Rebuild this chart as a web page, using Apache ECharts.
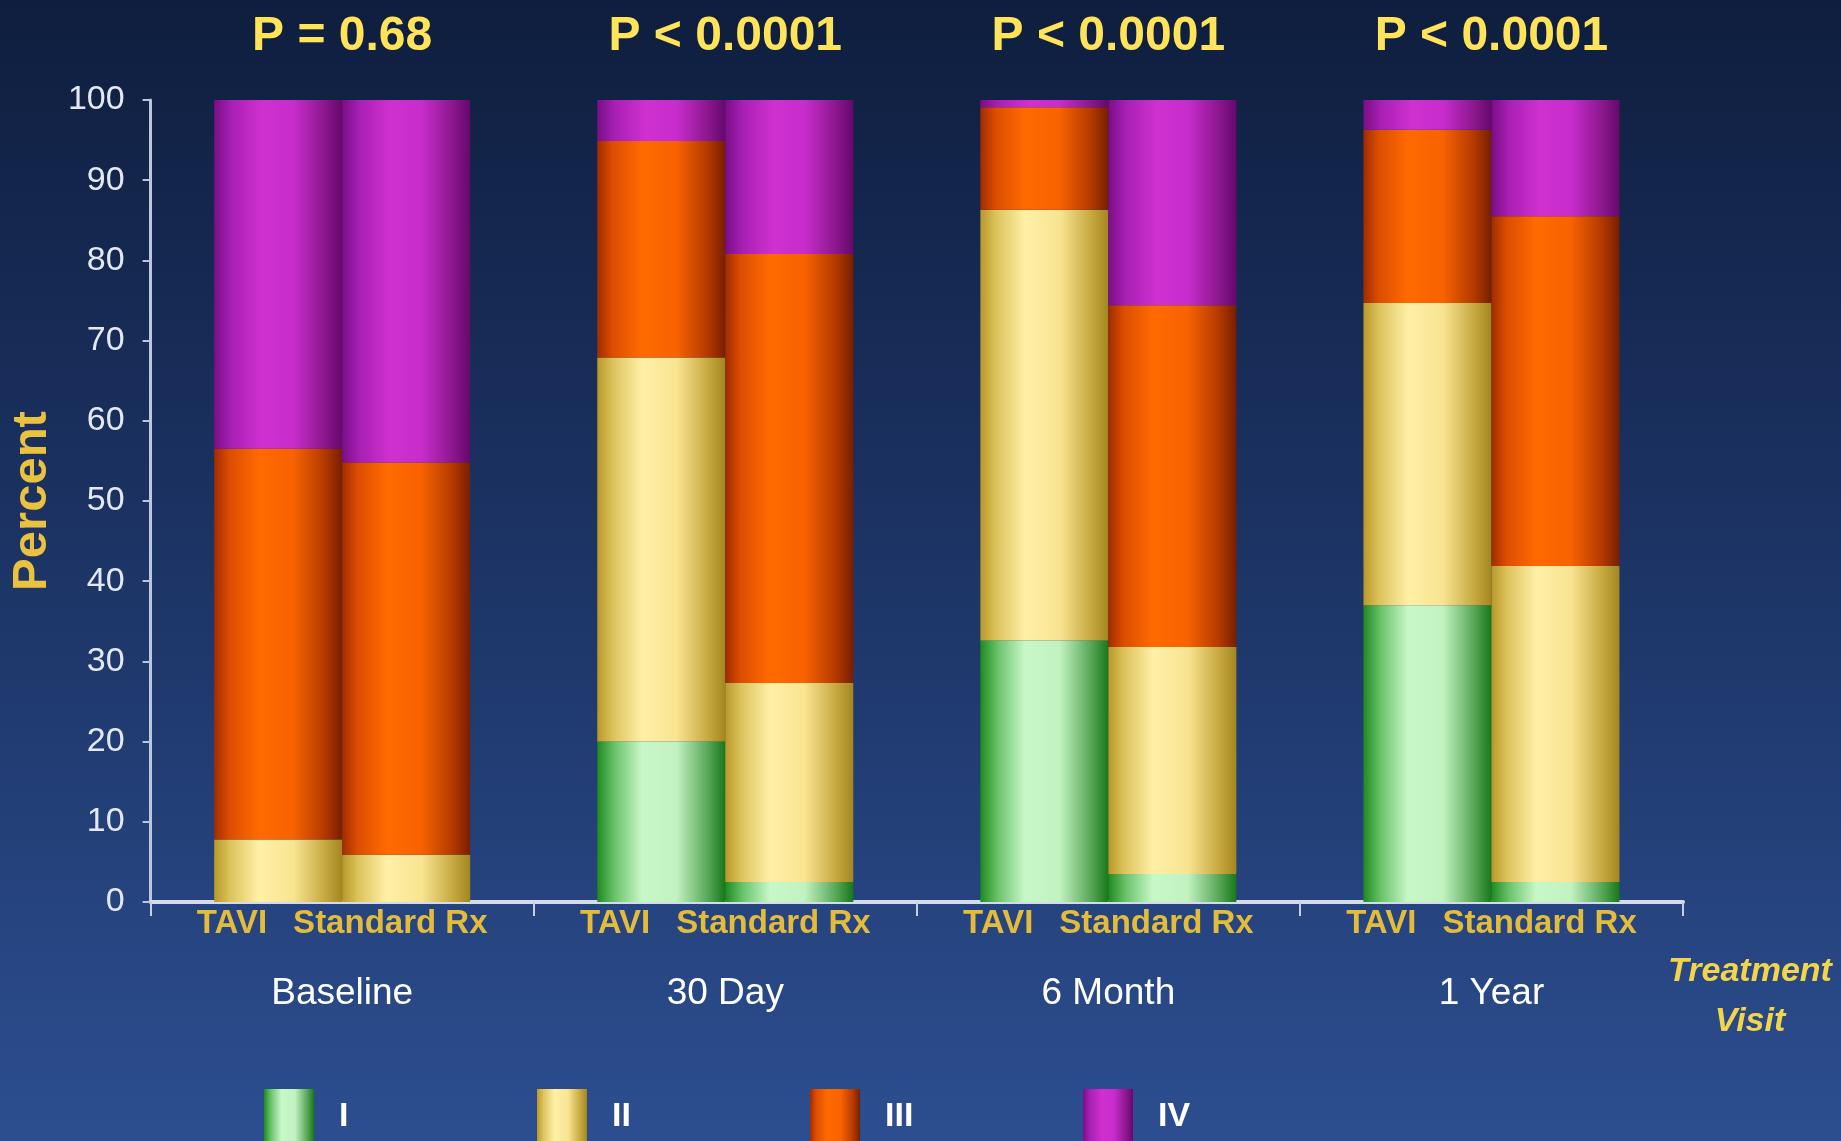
<!DOCTYPE html>
<html>
<head>
<meta charset="utf-8">
<title>NYHA Class by Treatment Visit</title>
<script src="https://cdn.jsdelivr.net/npm/echarts@6/dist/echarts.min.js"></script>
<style>
  html, body { margin: 0; padding: 0; width: 1841px; height: 1141px; overflow: hidden; background: #1c3364; }
  #chart { width: 1841px; height: 1141px; }
</style>
</head>
<body>
<div id="chart"></div>
<script>
// Visits along the x axis and the p-value shown above each pair of bars
const visits = ['Baseline', '30 Day', '6 Month', '1 Year'];
const pValues = ['P = 0.68', 'P < 0.0001', 'P < 0.0001', 'P < 0.0001'];
const arms = ['TAVI', 'Standard Rx'];
const classes = ['I', 'II', 'III', 'IV'];
const yTicks = [0, 10, 20, 30, 40, 50, 60, 70, 80, 90, 100];

// Percent of patients in each NYHA class, TAVI arm
const taviI   = [0.0, 20.0, 32.6, 37.0];
const taviII  = [7.8, 47.9, 53.7, 37.7];
const taviIII = [48.7, 27.0, 12.8, 21.6];
const taviIV  = [43.5, 5.1, 0.9, 3.7];

// Percent of patients in each NYHA class, Standard Rx arm
const stdI   = [0.0, 2.5, 3.5, 2.5];
const stdII  = [5.9, 24.8, 28.3, 39.4];
const stdIII = [48.9, 53.5, 42.6, 43.6];
const stdIV  = [45.2, 19.2, 25.6, 14.5];

const FONT = "'Liberation Sans', Arial, sans-serif";

// Cylinder-like shading across each bar
function shade(stops) {
  return new echarts.graphic.LinearGradient(0, 0, 1, 0,
    stops.map(function (s) { return { offset: s[0], color: s[1] }; }));
}
const fills = {
  I: shade([[0, '#1f8a1f'], [0.14, '#6cc46c'], [0.35, '#c8f8c8'], [0.62, '#c2f2c2'], [0.86, '#5aa85a'], [1, '#187818']]),
  II: shade([[0, '#b8982a'], [0.12, '#dcc25a'], [0.35, '#fff0a6'], [0.62, '#f8e492'], [0.86, '#c8aa42'], [1, '#a4861e']]),
  III: shade([[0, '#a02c00'], [0.12, '#dc4e00'], [0.35, '#ff6a00'], [0.62, '#f86200'], [0.86, '#b43a00'], [1, '#781e00']]),
  IV: shade([[0, '#7a0e86'], [0.14, '#a820b4'], [0.38, '#d030d0'], [0.62, '#c82ccc'], [0.86, '#8c188e'], [1, '#66086c']])
};

const taviSets = [taviI, taviII, taviIII, taviIV];
const stdSets = [stdI, stdII, stdIII, stdIV];

const series = [];
classes.forEach(function (c, k) {
  series.push({
    name: c, type: 'bar', stack: 'tavi', data: taviSets[k],
    barWidth: 128, barGap: '0%',
    itemStyle: { color: fills[c] }
  });
});
classes.forEach(function (c, k) {
  series.push({
    name: c, type: 'bar', stack: 'std', data: stdSets[k],
    barWidth: 128, barGap: '0%',
    itemStyle: { color: fills[c] }
  });
});

// One legend block per class, evenly spaced along the bottom
const legendStart = 259;
const legendStep = 273;
const legends = classes.map(function (c, k) {
  return {
    data: [c],
    left: legendStart + legendStep * k,
    top: 1084,
    icon: 'rect',
    itemWidth: 50,
    itemHeight: 55,
    selectedMode: false,
    textStyle: {
      color: '#ffffff', fontSize: 34, fontWeight: 'bold', fontFamily: FONT,
      padding: [0, 0, 0, 20]
    }
  };
});

const chart = echarts.init(document.getElementById('chart'), null, { renderer: 'canvas' });

chart.setOption({
  animation: false,
  backgroundColor: new echarts.graphic.LinearGradient(0, 0, 0, 1, [
    { offset: 0, color: '#0f1e3e' },
    { offset: 0.45, color: '#1b3262' },
    { offset: 1, color: '#2c4e90' }
  ]),
  textStyle: { fontFamily: FONT },
  grid: { left: 147, right: 158, top: 100, bottom: 239, containLabel: false },
  legend: legends,
  xAxis: [
    {
      type: 'category',
      data: visits,
      position: 'bottom',
      axisLine: { lineStyle: { color: '#d6dbe8', width: 4 } },
      axisTick: { show: true, length: 14, lineStyle: { color: '#c8cfe0', width: 2 } },
      axisLabel: {
        interval: 0,
        margin: 2,
        formatter: function (v) {
          return '{arm|' + arms[0] + '}{gap|}{arm|' + arms[1] + '}\n{visit|' + v + '}';
        },
        rich: {
          arm: { fontSize: 33, fontWeight: 'bold', color: '#e2bc3a', lineHeight: 40, fontFamily: FONT },
          gap: { width: 26 },
          visit: { fontSize: 37, color: '#ffffff', lineHeight: 100, fontFamily: FONT }
        }
      },
      name: 'Treatment\nVisit',
      nameLocation: 'end',
      nameGap: 67,
      nameTextStyle: {
        color: '#f3d54a', fontSize: 34, fontWeight: 'bold', fontStyle: 'italic',
        fontFamily: FONT, align: 'center', verticalAlign: 'top',
        lineHeight: 50, padding: [45, 0, 0, 0]
      }
    },
    {
      type: 'category',
      data: visits,
      position: 'top',
      axisLine: { show: false },
      axisTick: { show: false },
      axisLabel: {
        interval: 0,
        margin: 35,
        fontSize: 48,
        fontWeight: 'bold',
        lineHeight: 56,
        color: '#ffe45a',
        fontFamily: FONT,
        formatter: function (v, i) { return pValues[i]; }
      }
    }
  ],
  yAxis: {
    type: 'value',
    min: yTicks[0],
    max: yTicks[yTicks.length - 1],
    interval: yTicks[1] - yTicks[0],
    name: 'Percent',
    nameLocation: 'middle',
    nameRotate: 90,
    nameGap: 85,
    nameTextStyle: { color: '#ebc23f', fontSize: 49, fontWeight: 'bold', fontFamily: FONT },
    axisLine: { show: true, lineStyle: { color: '#bcc6dc', width: 3 } },
    axisTick: { show: true, length: 8, lineStyle: { color: '#bcc6dc', width: 2 } },
    axisLabel: { color: '#e4e8f2', fontSize: 34, margin: 26, fontFamily: FONT },
    splitLine: { show: false }
  },
  series: series
});
</script>
</body>
</html>
